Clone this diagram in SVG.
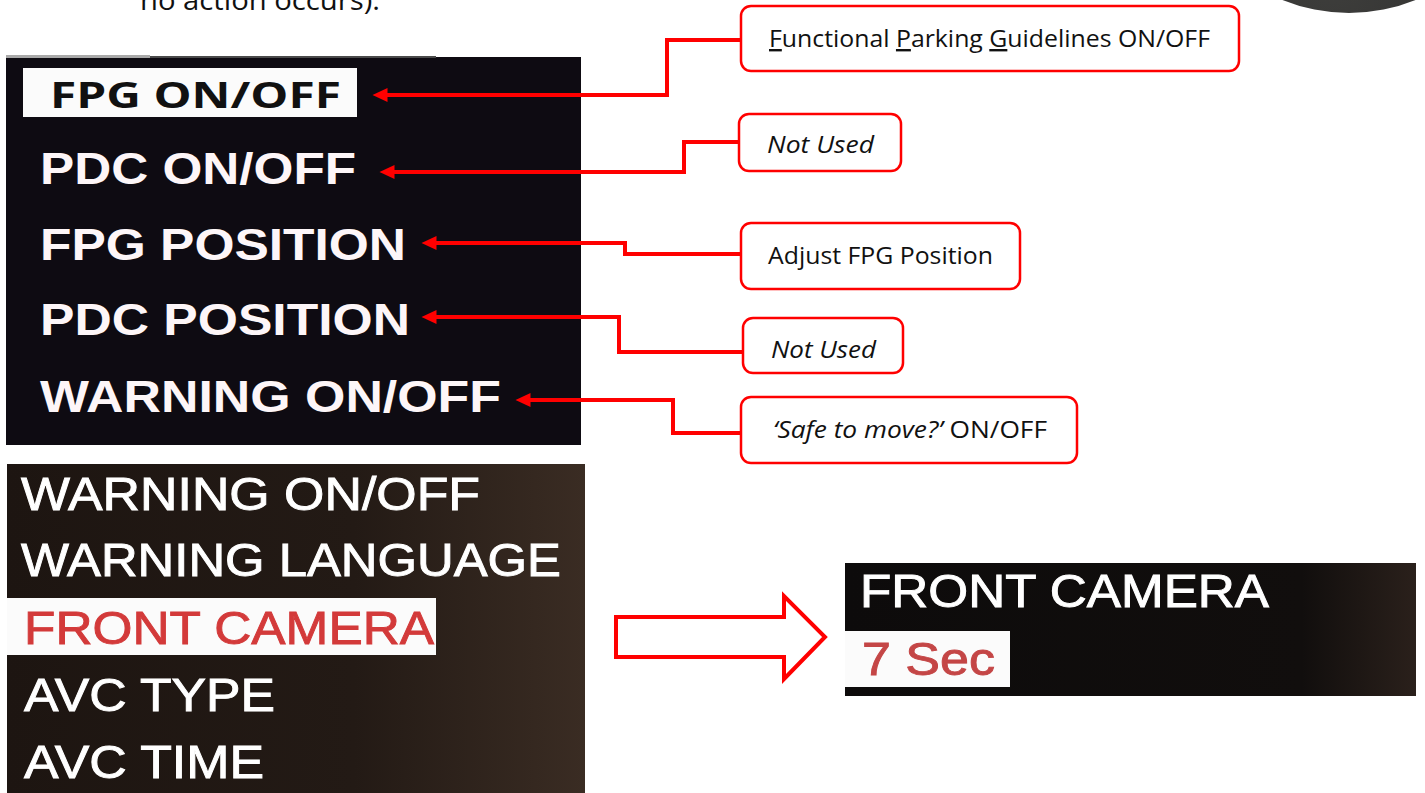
<svg xmlns="http://www.w3.org/2000/svg" width="1425" height="793" viewBox="0 0 1425 793">
<defs>
<style>
.box{fill:#ffffff;stroke:#ff0000;stroke-width:2.5}
.lbl{font-family:"Open Sans","Liberation Sans",sans-serif;font-size:24px;fill:#111111}
.it{font-style:italic}
.u{text-decoration:underline}
.conn{fill:none;stroke:#ff0000;stroke-width:4;stroke-linejoin:miter}
.scr1{font-family:"Liberation Sans",Arial,sans-serif;font-weight:bold;font-size:44px;fill:#fdf6f8}
.scr2{font-family:"Liberation Sans",Arial,sans-serif;font-size:46px;fill:#ffffff;stroke:#ffffff;stroke-width:0.9}
.red{fill:#d33a3a;stroke:#d33a3a}
</style>
<marker id="ah" markerUnits="userSpaceOnUse" markerWidth="16" markerHeight="14" refX="0.5" refY="7" orient="auto">
<path d="M0,0 L15,7 L0,14 z" fill="#ff0000"/>
</marker>
<linearGradient id="g2" x1="0" y1="0" x2="1" y2="0">
<stop offset="0" stop-color="#1d1511"/>
<stop offset="0.6" stop-color="#231a15"/>
<stop offset="1" stop-color="#3a2c23"/>
</linearGradient>
<linearGradient id="g3" x1="0" y1="0" x2="1" y2="0">
<stop offset="0" stop-color="#0d0b0b"/>
<stop offset="0.8" stop-color="#110e0d"/>
<stop offset="1" stop-color="#2a201b"/>
</linearGradient>
<radialGradient id="gc" cx="0.45" cy="0.9" r="0.6">
<stop offset="0" stop-color="#3e3e3c"/>
<stop offset="0.9" stop-color="#2e2e2d"/>
<stop offset="1" stop-color="#222222"/>
</radialGradient>
</defs>
<rect x="0" y="0" width="1425" height="793" fill="#ffffff"/>

<text x="140" y="10" font-family="Open Sans, Liberation Sans, sans-serif" font-size="27" fill="#111111" textLength="240" lengthAdjust="spacingAndGlyphs">no action occurs).</text>
<circle cx="1349" cy="-164" r="177" fill="url(#gc)"/>

<g id="screen1">
<rect x="6" y="57" width="575" height="388" fill="#0e0b12"/>
<rect x="6" y="55" width="144" height="3" fill="#a9a9a9"/>
<rect x="150" y="56" width="286" height="2" fill="#4a4a4a"/>
<rect x="23" y="68" width="334" height="49" fill="#fbfbfb"/>
<text x="50" y="108" font-family="Open Sans, Liberation Sans, sans-serif" font-weight="bold" font-size="36" fill="#111111" textLength="291" lengthAdjust="spacingAndGlyphs">FPG ON/OFF</text>
<text class="scr1" x="40" y="184" textLength="316" lengthAdjust="spacingAndGlyphs">PDC ON/OFF</text>
<text class="scr1" x="40" y="260" textLength="366" lengthAdjust="spacingAndGlyphs">FPG POSITION</text>
<text class="scr1" x="40" y="335" textLength="370" lengthAdjust="spacingAndGlyphs">PDC POSITION</text>
<text class="scr1" x="40" y="412" textLength="461" lengthAdjust="spacingAndGlyphs">WARNING ON/OFF</text>
</g>

<g id="screen2">
<rect x="7" y="464" width="578" height="329" fill="url(#g2)"/>
<text class="scr2" x="21" y="510" textLength="459" lengthAdjust="spacingAndGlyphs">WARNING ON/OFF</text>
<text class="scr2" x="21" y="576" textLength="540" lengthAdjust="spacingAndGlyphs">WARNING LANGUAGE</text>
<rect x="7" y="598" width="429" height="57" fill="#fbfbfb"/>
<text class="scr2 red" x="24" y="644" textLength="410" lengthAdjust="spacingAndGlyphs">FRONT CAMERA</text>
<text class="scr2" x="24" y="711" textLength="251" lengthAdjust="spacingAndGlyphs">AVC TYPE</text>
<text class="scr2" x="24" y="778" textLength="240" lengthAdjust="spacingAndGlyphs">AVC TIME</text>
</g>

<g id="screen3">
<rect x="845" y="563" width="571" height="133" fill="url(#g3)"/>
<text class="scr2" x="860" y="607" textLength="409" lengthAdjust="spacingAndGlyphs">FRONT CAMERA</text>
<rect x="845" y="631" width="165" height="56" fill="#fbfbfb"/>
<text class="scr2" x="862" y="675" textLength="133" lengthAdjust="spacingAndGlyphs" style="fill:#c44646;stroke:#c44646">7 Sec</text>
</g>

<g id="callout-fpg">
<rect class="box" x="741" y="6" width="498" height="65" rx="10"/>
<text class="lbl" x="769" y="47" textLength="441" lengthAdjust="spacingAndGlyphs"><tspan class="u">F</tspan>unctional <tspan class="u">P</tspan>arking <tspan class="u">G</tspan>uidelines ON/OFF</text>
</g>
<g id="callout-notused1">
<rect class="box" x="739" y="114" width="162" height="57" rx="10"/>
<text class="lbl it" x="767" y="153" textLength="107" lengthAdjust="spacingAndGlyphs">Not Used</text>
</g>
<g id="callout-adjust">
<rect class="box" x="741" y="223" width="279" height="66" rx="10"/>
<text class="lbl" x="768" y="264" textLength="225" lengthAdjust="spacingAndGlyphs">Adjust FPG Position</text>
</g>
<g id="callout-notused2">
<rect class="box" x="743" y="318" width="160" height="55" rx="10"/>
<text class="lbl it" x="771" y="358" textLength="105" lengthAdjust="spacingAndGlyphs">Not Used</text>
</g>
<g id="callout-safe">
<rect class="box" x="741" y="397" width="336" height="66" rx="10"/>
<text class="lbl" x="773" y="438" textLength="274" lengthAdjust="spacingAndGlyphs"><tspan class="it">‘Safe to move?’</tspan> ON/OFF</text>
</g>

<g id="connectors">
<path class="conn" d="M741,40 H667 V95 H387" marker-end="url(#ah)"/>
<path class="conn" d="M739,142 H684 V172 H394" marker-end="url(#ah)"/>
<path class="conn" d="M742,254 H625 V243 H436" marker-end="url(#ah)"/>
<path class="conn" d="M743,352 H619 V317 H436" marker-end="url(#ah)"/>
<path class="conn" d="M741,433 H673 V400 H530" marker-end="url(#ah)"/>
<polygon points="616,617 784,617 784,596 825,637 784,679 784,657 616,657" fill="#ffffff" stroke="#ff0000" stroke-width="4" stroke-linejoin="miter"/>
</g>
</svg>
